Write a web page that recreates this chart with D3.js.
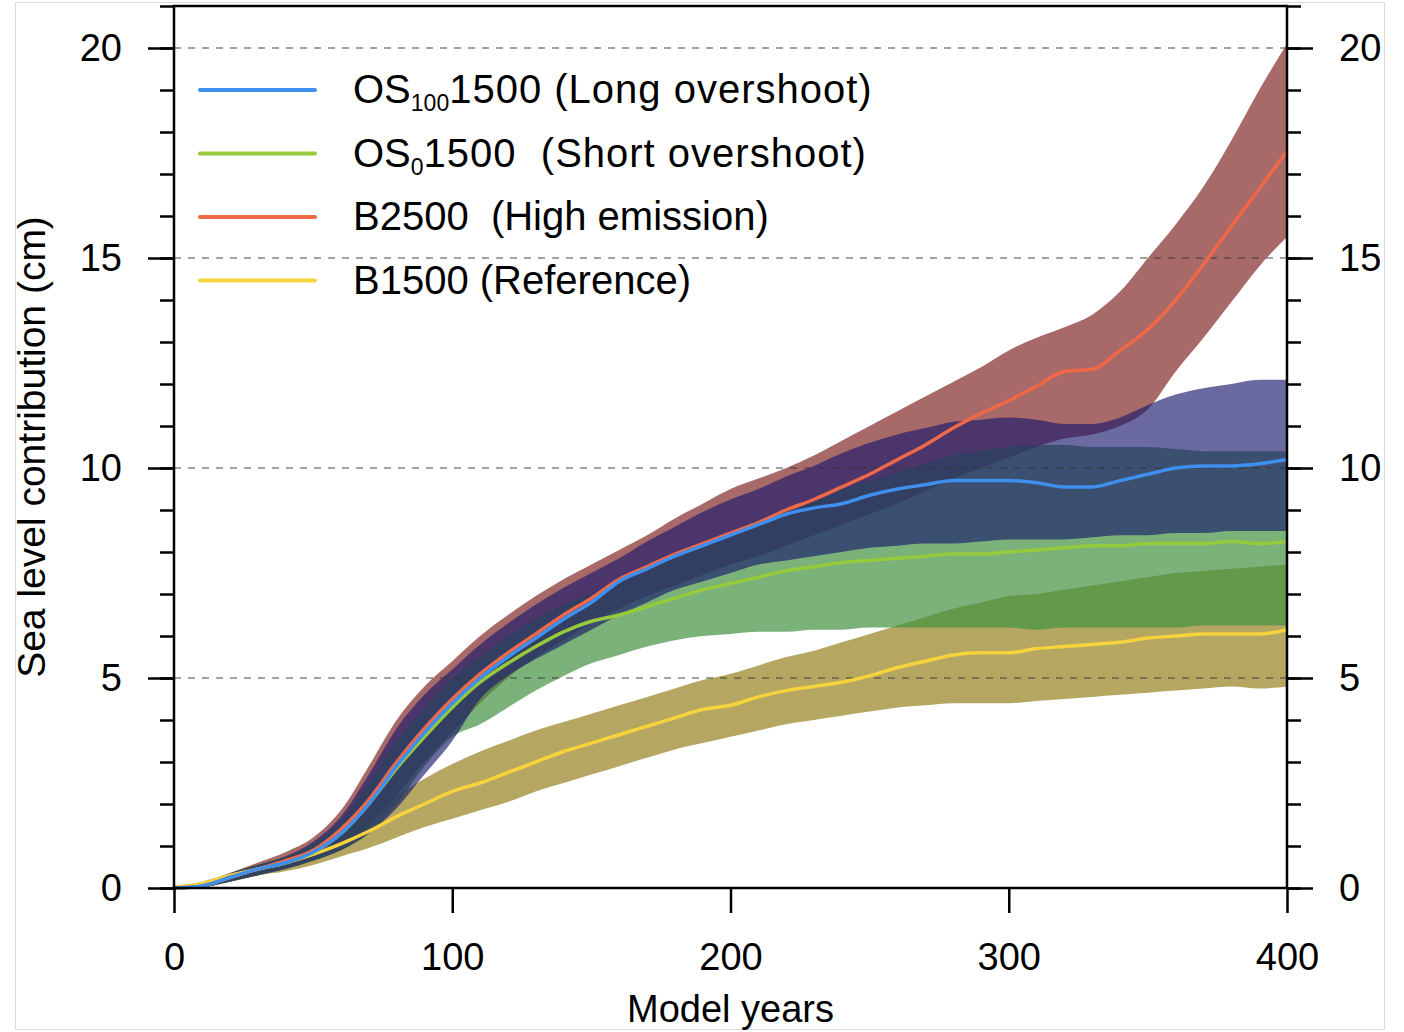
<!DOCTYPE html>
<html>
<head>
<meta charset="utf-8">
<script src="https://cdn.jsdelivr.net/npm/d3@7"></script>
<style>
  body { margin: 0; background: #fff; }
  svg text { font-family: "Liberation Sans", Arial, Helvetica, sans-serif; fill: #000; }
</style>
</head>
<body>
<svg id="chart" width="1404" height="1032"></svg>
<script>
// --- DATA (model years, sea level contribution in cm) ---
const years = [0, 10, 20, 30, 40, 50, 60, 70, 80, 90, 100, 110, 120, 130, 140, 150, 160, 170, 180, 190, 200,
  210, 220, 230, 240, 250, 260, 270, 280, 290, 300, 310, 320, 330, 340, 350, 360, 370, 380, 390, 400];

// OS100 1500 (Long overshoot)
const os100Mean = [0, 0.05, 0.25, 0.45, 0.6, 0.85, 1.3, 2.0, 2.9, 3.7, 4.4, 5.0, 5.5, 5.95, 6.4, 6.8, 7.3, 7.6, 7.9, 8.15, 8.4,
  8.65, 8.9, 9.05, 9.15, 9.35, 9.5, 9.6, 9.7, 9.7, 9.7, 9.65, 9.55, 9.55, 9.7, 9.85, 10.0, 10.05, 10.05, 10.1, 10.2];
const os100Hi = [0.05, 0.1, 0.35, 0.55, 0.75, 1.1, 1.7, 2.7, 3.8, 4.6, 5.2, 5.8, 6.3, 6.75, 7.15, 7.5, 7.85, 8.25, 8.6, 8.95, 9.25,
  9.5, 9.8, 10.05, 10.35, 10.6, 10.8, 10.95, 11.1, 11.15, 11.2, 11.15, 11.05, 11.05, 11.2, 11.5, 11.75, 11.9, 12.0, 12.1, 12.1];
const os100Lo = [0, 0.02, 0.15, 0.3, 0.45, 0.65, 0.9, 1.3, 1.9, 2.7, 3.5, 4.5, 5.05, 5.45, 5.8, 6.15, 6.5, 6.8, 7.1, 7.3, 7.5,
  7.7, 7.8, 7.9, 8.0, 8.1, 8.15, 8.2, 8.2, 8.25, 8.3, 8.3, 8.3, 8.35, 8.4, 8.4, 8.45, 8.45, 8.5, 8.5, 8.5];

// OS0 1500 (Short overshoot)
const os0Mean = [0, 0.05, 0.25, 0.45, 0.6, 0.85, 1.3, 2.0, 2.85, 3.6, 4.3, 4.9, 5.35, 5.75, 6.1, 6.35, 6.5, 6.7, 6.9, 7.1, 7.25,
  7.4, 7.55, 7.65, 7.75, 7.8, 7.85, 7.9, 7.95, 7.95, 8.0, 8.05, 8.1, 8.15, 8.15, 8.2, 8.2, 8.2, 8.25, 8.2, 8.25];
const os0Hi = [0.05, 0.1, 0.35, 0.55, 0.75, 1.05, 1.6, 2.5, 3.5, 4.3, 5.0, 5.5, 6.0, 6.4, 6.75, 7.0, 7.3, 7.6, 7.9, 8.15, 8.4,
  8.65, 8.95, 9.25, 9.5, 9.7, 9.9, 10.1, 10.3, 10.4, 10.5, 10.55, 10.55, 10.5, 10.5, 10.5, 10.45, 10.4, 10.4, 10.4, 10.4];
const os0Lo = [0, 0.02, 0.15, 0.3, 0.45, 0.65, 0.9, 1.3, 2.0, 2.9, 3.6, 3.9, 4.3, 4.7, 5.05, 5.35, 5.55, 5.75, 5.9, 6.0, 6.05,
  6.1, 6.1, 6.15, 6.15, 6.2, 6.2, 6.2, 6.2, 6.2, 6.2, 6.15, 6.2, 6.2, 6.2, 6.2, 6.2, 6.25, 6.25, 6.25, 6.25];

// B2500 (High emission)
const b2500Mean = [0, 0.05, 0.25, 0.45, 0.65, 0.9, 1.4, 2.1, 3.0, 3.8, 4.5, 5.1, 5.6, 6.05, 6.5, 6.9, 7.35, 7.65, 7.95, 8.2, 8.45,
  8.7, 9.0, 9.25, 9.55, 9.85, 10.2, 10.55, 10.95, 11.3, 11.6, 11.95, 12.3, 12.35, 12.8, 13.3, 14.0, 14.85, 15.75, 16.65, 17.55];
const b2500Hi = [0.05, 0.1, 0.35, 0.6, 0.85, 1.2, 1.85, 2.9, 4.0, 4.8, 5.4, 6.0, 6.5, 6.95, 7.35, 7.7, 8.05, 8.4, 8.8, 9.15, 9.5,
  9.75, 10.0, 10.3, 10.65, 11.0, 11.35, 11.7, 12.05, 12.4, 12.8, 13.1, 13.35, 13.65, 14.2, 15.0, 15.8, 16.7, 17.8, 19.0, 20.1];
const b2500Lo = [0, 0.02, 0.15, 0.3, 0.45, 0.7, 1.0, 1.5, 2.2, 3.0, 3.7, 4.4, 5.0, 5.5, 5.9, 6.3, 6.65, 6.95, 7.2, 7.45, 7.7,
  7.9, 8.15, 8.4, 8.65, 8.9, 9.15, 9.45, 9.75, 10.0, 10.25, 10.5, 10.7, 10.8, 11.0, 11.4, 12.3, 13.1, 13.95, 14.8, 15.5];

// B1500 (Reference)
const b1500Mean = [0.02, 0.1, 0.3, 0.45, 0.6, 0.8, 1.05, 1.35, 1.7, 2.0, 2.3, 2.5, 2.75, 3.0, 3.25, 3.45, 3.65, 3.85, 4.05, 4.25, 4.35,
  4.55, 4.7, 4.8, 4.9, 5.05, 5.25, 5.4, 5.55, 5.6, 5.6, 5.7, 5.75, 5.8, 5.85, 5.95, 6.0, 6.05, 6.05, 6.05, 6.15];
const b1500Hi = [0.05, 0.15, 0.35, 0.55, 0.75, 1.0, 1.35, 1.75, 2.2, 2.6, 2.95, 3.25, 3.5, 3.75, 3.95, 4.15, 4.35, 4.55, 4.75, 4.95, 5.1,
  5.3, 5.5, 5.65, 5.85, 6.05, 6.25, 6.45, 6.65, 6.8, 6.95, 7.0, 7.1, 7.2, 7.3, 7.4, 7.5, 7.55, 7.6, 7.65, 7.7];
const b1500Lo = [0, 0.02, 0.15, 0.3, 0.4, 0.55, 0.75, 0.95, 1.2, 1.45, 1.65, 1.85, 2.05, 2.3, 2.5, 2.7, 2.9, 3.1, 3.3, 3.45, 3.6,
  3.75, 3.9, 4.0, 4.1, 4.2, 4.3, 4.35, 4.4, 4.4, 4.4, 4.45, 4.5, 4.55, 4.6, 4.65, 4.7, 4.75, 4.8, 4.75, 4.8];

// axis ticks
const xTicks = [0, 100, 200, 300, 400];
const yTicks = [0, 5, 10, 15, 20];
const yMinor = [0, 1, 2, 3, 4, 5, 6, 7, 8, 9, 10, 11, 12, 13, 14, 15, 16, 17, 18, 19, 20, 21];

// legend
const legendItems = [
  { main: "OS", sub: "100", rest: "1500 (Long overshoot)", color: "#3f8fef" },
  { main: "OS", sub: "0", rest: "1500  (Short overshoot)", color: "#97c93d" },
  { main: "B2500  (High emission)", sub: "", rest: "", color: "#ef6848" },
  { main: "B1500 (Reference)", sub: "", rest: "", color: "#f6d23c" }
];

// --- SETUP ---
const svg = d3.select("#chart");
const x = d3.scaleLinear().domain([0, 400]).range([174, 1287]);
const y = d3.scaleLinear().domain([0, 21]).range([888, 6]);

// figure border
svg.append("rect")
  .attr("x", 15.5).attr("y", 2.5).attr("width", 1369).attr("height", 1027)
  .attr("fill", "none").attr("stroke", "#dcdcdc").attr("stroke-width", 1);

// --- BANDS (drawn bottom to top) ---
const area = d3.area()
  .x((d, i) => x(years[i]))
  .y0(d => y(d[0]))
  .y1(d => y(d[1]))
  .curve(d3.curveMonotoneX);

const bands = [
  { lo: b2500Lo, hi: b2500Hi, fill: "rgb(131,42,42)", op: 0.7 },
  { lo: b1500Lo, hi: b1500Hi, fill: "rgb(149,129,31)", op: 0.7 },
  { lo: os0Lo, hi: os0Hi, fill: "rgb(65,146,65)", op: 0.7 },
  { lo: os100Lo, hi: os100Hi, fill: "rgb(26,26,109)", op: 0.65 }
];

svg.append("g").selectAll("path")
  .data(bands)
  .enter().append("path")
  .attr("d", b => area(d3.zip(b.lo, b.hi)))
  .attr("fill", b => b.fill)
  .attr("fill-opacity", b => b.op);

// dashed grid lines
svg.append("g").selectAll("line")
  .data(yTicks.filter(v => v > 0))
  .enter().append("line")
  .attr("x1", x(0)).attr("x2", x(400))
  .attr("y1", d => y(d)).attr("y2", d => y(d))
  .attr("stroke", "#333").attr("stroke-opacity", 0.6)
  .attr("stroke-width", 1.5).attr("stroke-dasharray", "7,7");

// --- MEAN LINES ---
const line = d3.line()
  .x((d, i) => x(years[i]))
  .y(d => y(d))
  .curve(d3.curveMonotoneX);

const series = [
  { vals: b1500Mean, color: legendItems[3].color },
  { vals: os0Mean, color: legendItems[1].color },
  { vals: b2500Mean, color: legendItems[2].color },
  { vals: os100Mean, color: legendItems[0].color }
];

svg.append("g").selectAll("path")
  .data(series)
  .enter().append("path")
  .attr("d", s => line(s.vals))
  .attr("fill", "none")
  .attr("stroke", s => s.color)
  .attr("stroke-width", 3.5)
  .attr("stroke-linejoin", "round");

// --- AXES ---
function styleAxis(g) {
  g.select(".domain").remove();
  g.selectAll(".tick line").attr("stroke", "#000").attr("stroke-width", 2.5);
  g.selectAll("text").attr("font-size", 38).attr("font-family", null);
}

svg.append("g").attr("transform", `translate(${x(0)},0)`)
  .call(d3.axisLeft(y).tickValues(yMinor).tickSize(14).tickFormat(""))
  .call(styleAxis);
svg.append("g").attr("transform", `translate(${x(0)},0)`)
  .call(d3.axisLeft(y).tickValues(yTicks).tickSize(26).tickPadding(26).tickFormat(d3.format("d")))
  .call(styleAxis);

svg.append("g").attr("transform", `translate(${x(400)},0)`)
  .call(d3.axisRight(y).tickValues(yMinor).tickSize(14).tickFormat(""))
  .call(styleAxis);
svg.append("g").attr("transform", `translate(${x(400)},0)`)
  .call(d3.axisRight(y).tickValues(yTicks).tickSize(26).tickPadding(26).tickFormat(d3.format("d")))
  .call(styleAxis);

svg.append("g").attr("transform", `translate(0,${y(0)})`)
  .call(d3.axisBottom(x).tickValues(xTicks).tickSize(25).tickPadding(30).tickFormat(d3.format("d")))
  .call(styleAxis);

// plot frame
svg.append("rect")
  .attr("x", x(0)).attr("y", y(21))
  .attr("width", x(400) - x(0)).attr("height", y(0) - y(21))
  .attr("fill", "none").attr("stroke", "#000").attr("stroke-width", 2.5);

// axis titles
svg.append("text")
  .attr("x", (x(0) + x(400)) / 2).attr("y", 1022)
  .attr("text-anchor", "middle").attr("font-size", 38)
  .text("Model years");

svg.append("text")
  .attr("transform", "translate(45,447) rotate(-90)")
  .attr("text-anchor", "middle").attr("font-size", 39)
  .text("Sea level contribution (cm)");

// --- LEGEND ---
const legend = svg.append("g");
legendItems.forEach((item, i) => {
  const ly = 90 + i * 63.5;
  legend.append("line")
    .attr("x1", 200).attr("x2", 315).attr("y1", ly).attr("y2", ly)
    .attr("stroke", item.color).attr("stroke-width", 4).attr("stroke-linecap", "round");
  const t = legend.append("text")
    .attr("x", 353).attr("y", ly + 13)
    .attr("font-size", 40)
    .style("white-space", "pre");
  t.append("tspan").text(item.main);
  if (item.sub) {
    t.append("tspan").attr("font-size", 23).attr("dy", 8).text(item.sub);
    t.append("tspan").attr("dy", -8).attr("letter-spacing", 1).text(item.rest);
  }
});
</script>
</body>
</html>
